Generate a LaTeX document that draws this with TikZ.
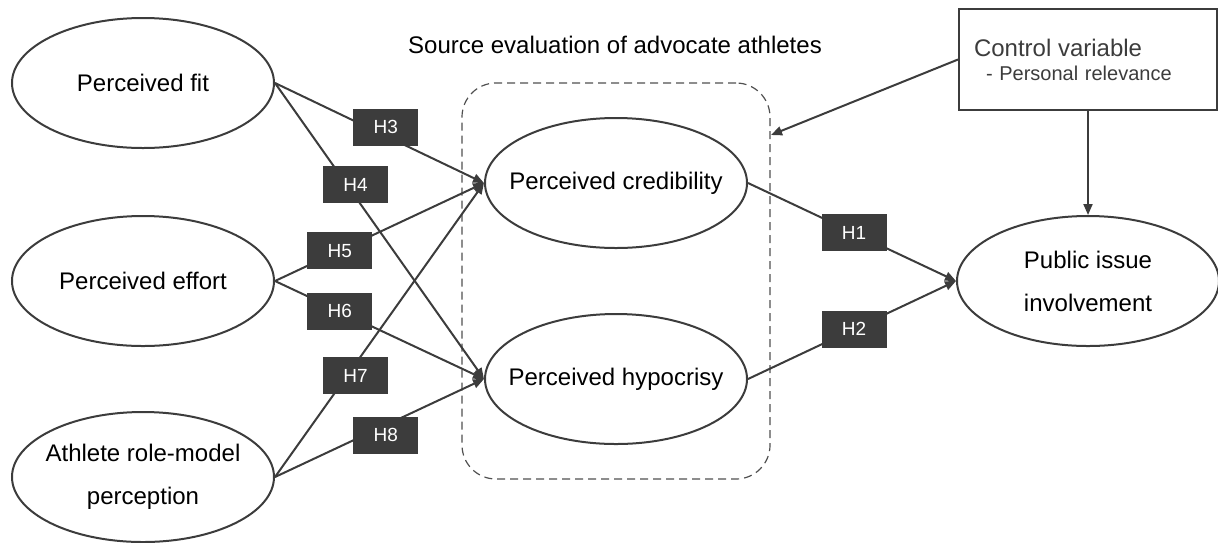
\documentclass[tikz,border=0pt]{standalone}
\usepackage{fontspec}
\setmainfont{Liberation Sans}
\usetikzlibrary{shapes.geometric,arrows.meta}

\definecolor{ink}{HTML}{3C3C3C}

\begin{document}
\begin{tikzpicture}[x=0.5pt,y=-0.5pt,
	latent/.style={draw=ink,line width=1pt,ellipse,minimum width=131pt,minimum height=65pt,inner xsep=-30pt,inner ysep=0pt,align=center,font=\fontsize{12}{21.5}\selectfont},
	hyp/.style={fill=ink,text=white,minimum width=32.5pt,minimum height=18.5pt,inner sep=0pt,font=\fontsize{9.5}{11}\selectfont},
	link/.style={draw=ink,line width=1pt,-{Triangle[length=5.5pt,width=4.5pt]}}]
	\useasboundingbox (0,0) rectangle (1218,542);
	\node[draw=ink!90,line width=0.6pt,dash pattern=on 4pt off 2.5pt,rounded corners=17pt,minimum width=154pt,minimum height=198pt] (src) at (616,281) {};
	\node[font=\fontsize{12}{14}\selectfont] (title) at (615,45) {Source evaluation of advocate athletes};
	\node[latent] (fit) at (143,83) {Perceived fit};
	\node[latent] (effort) at (143,281) {Perceived effort};
	\node[latent] (role) at (143,477) {Athlete role-model\\perception};
	\node[latent] (cred) at (616,183) {Perceived credibility};
	\node[latent] (hypo) at (616,379) {Perceived hypocrisy};
	\node[latent] (pub) at (1088,281) {Public issue\\involvement};
	\node[draw=ink,line width=1pt,minimum width=129pt,minimum height=50.5pt,text width=114pt,inner xsep=7.5pt,align=left,text=ink] (ctrl) at (1088,59.5) {{\fontsize{12}{13}\selectfont Control variable}\\{\fontsize{10}{13.5}\selectfont\hspace*{6pt}- Personal relevance}};
	\coordinate (srchit) at (771,135);
	\draw[link] (fit.east) -- node[hyp,pos=0.53,yshift=4.5pt] {H3} (cred.west);
	\draw[link] (fit.east) -- node[hyp,pos=0.385,yshift=6pt] {H4} (hypo.west);
	\draw[link] (effort.east) -- node[hyp,pos=0.31] {H5} (cred.west);
	\draw[link] (effort.east) -- node[hyp,pos=0.31] {H6} (hypo.west);
	\draw[link] (role.east) -- node[hyp,pos=0.385,yshift=-6pt] {H7} (cred.west);
	\draw[link] (role.east) -- node[hyp,pos=0.53,yshift=-5pt] {H8} (hypo.west);
	\draw[link] (cred.east) -- node[hyp,pos=0.51] {H1} (pub.west);
	\draw[link] (hypo.east) -- node[hyp,pos=0.51] {H2} (pub.west);
	\draw[link] (ctrl.west) -- (srchit);
	\draw[link] (ctrl.south) -- (pub.north);
\end{tikzpicture}
\end{document}
